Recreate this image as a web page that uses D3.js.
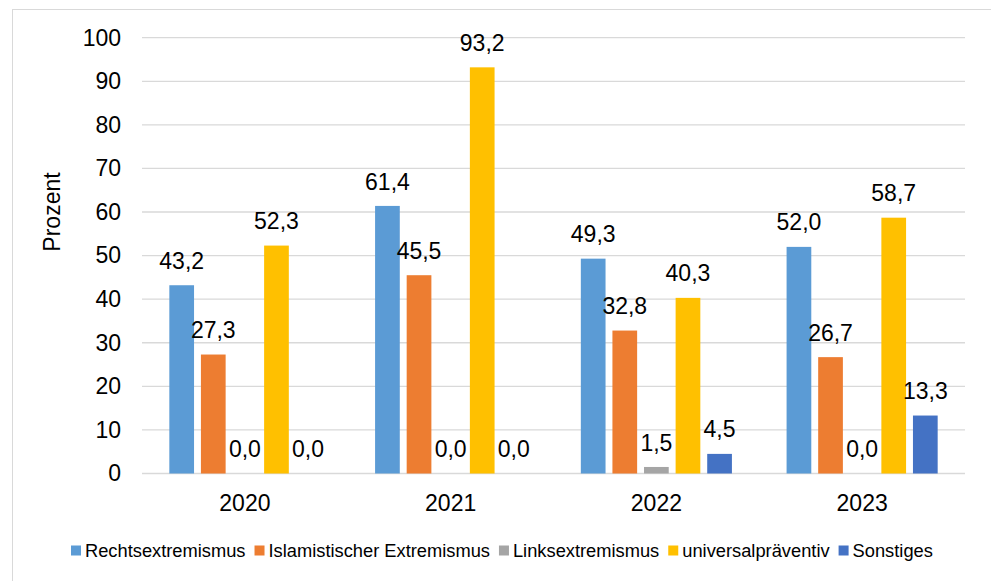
<!DOCTYPE html>
<html>
<head>
<meta charset="utf-8">
<script src="https://cdn.jsdelivr.net/npm/d3@7"></script>
<style>
  html, body { margin: 0; padding: 0; background: #fff; }
  svg { display: block; font-family: "Liberation Sans", Arial, sans-serif; }
</style>
</head>
<body>
<svg id="chart" width="991" height="581"></svg>
<script>
// Kategorien (Jahre) und Anteile je Themenfeld in Prozent
const years = ["2020", "2021", "2022", "2023"];
const seriesNames = ["Rechtsextremismus", "Islamistischer Extremismus", "Linksextremismus", "universalpräventiv", "Sonstiges"];
const rechtsextremismus = [43.2, 61.4, 49.3, 52.0];
const islamistischerExtremismus = [27.3, 45.5, 32.8, 26.7];
const linksextremismus = [0.0, 0.0, 1.5, 0.0];
const universalpraeventiv = [52.3, 93.2, 40.3, 58.7];
const sonstiges = [0.0, 0.0, 4.5, 13.3];
const yTicks = [0, 10, 20, 30, 40, 50, 60, 70, 80, 90, 100];
const colors = ["#5B9BD5", "#ED7D31", "#A5A5A5", "#FFC000", "#4472C4"];

const seriesValues = [rechtsextremismus, islamistischerExtremismus, linksextremismus, universalpraeventiv, sonstiges];

const svg = d3.select("#chart");
const FONT = 23;

// Rahmen des Diagrammbereichs
svg.append("rect")
  .attr("x", 12.5).attr("y", 9.5)
  .attr("width", 1000).attr("height", 600)
  .attr("fill", "none").attr("stroke", "#D9D9D9").attr("stroke-width", 1);

const plot = { left: 142, right: 965, top: 37.7, bottom: 473.5 };

const x0 = d3.scaleBand().domain(years).range([plot.left, plot.right]).paddingInner(0).paddingOuter(0);
const x1 = d3.scaleBand().domain(d3.range(seriesNames.length))
  .range([0, x0.bandwidth()]).paddingInner(0.218).paddingOuter(0.865);
const y = d3.scaleLinear().domain([0, 100]).range([plot.bottom, plot.top]);

// Gitterlinien
svg.append("g")
  .selectAll("line").data(yTicks).join("line")
  .attr("x1", plot.left).attr("x2", plot.right)
  .attr("y1", d => y(d)).attr("y2", d => y(d))
  .attr("stroke", "#D9D9D9").attr("stroke-width", 1.3);

// Y-Achse (nur Beschriftungen)
const yAxis = d3.axisLeft(y).tickValues(yTicks).tickSize(0).tickPadding(0).tickFormat(d3.format("d"));
const yG = svg.append("g").attr("transform", `translate(121,0)`).call(yAxis);
yG.select(".domain").remove();
yG.selectAll("text").attr("font-size", FONT).attr("fill", "#000")
  .attr("font-family", "Liberation Sans, Arial, sans-serif");

// X-Achse (nur Beschriftungen)
const xAxis = d3.axisBottom(x0).tickSize(0).tickPadding(0);
const xG = svg.append("g").attr("transform", `translate(0,${plot.bottom})`).call(xAxis);
xG.select(".domain").remove();
xG.selectAll("text").attr("font-size", FONT).attr("fill", "#000")
  .attr("dy", null).attr("y", 37.5)
  .attr("font-family", "Liberation Sans, Arial, sans-serif");

// Achsentitel
svg.append("text")
  .attr("transform", "translate(60,212) rotate(-90)")
  .attr("text-anchor", "middle")
  .attr("font-size", FONT).attr("fill", "#000")
  .text("Prozent");

// Balken und Datenbeschriftungen
const fmt = v => d3.format(".1f")(v).replace(".", ",");
const groups = svg.append("g").selectAll("g").data(years).join("g")
  .attr("transform", d => `translate(${x0(d)},0)`);

groups.each(function(year, yi) {
  const g = d3.select(this);
  const rows = seriesValues.map((vals, si) => ({ si, v: vals[yi] }));
  g.selectAll("rect").data(rows).join("rect")
    .attr("x", d => x1(d.si))
    .attr("width", x1.bandwidth())
    .attr("y", d => y(d.v))
    .attr("height", d => y(0) - y(d.v))
    .attr("fill", d => colors[d.si]);
  g.selectAll("text").data(rows).join("text")
    .attr("x", d => x1(d.si) + x1.bandwidth() / 2)
    .attr("y", d => y(d.v) - 16.4)
    .attr("text-anchor", "middle")
    .attr("font-size", FONT).attr("fill", "#000")
    .text(d => fmt(d.v));
});

// Legende
const legend = svg.append("g").attr("transform", "translate(71,0)");
let lx = 0;
seriesNames.forEach((name, i) => {
  const item = legend.append("g").attr("transform", `translate(${lx},0)`);
  item.append("rect").attr("x", 0).attr("y", 545.5).attr("width", 10).attr("height", 10).attr("fill", colors[i]);
  const t = item.append("text").attr("x", 14).attr("y", 556.5)
    .attr("font-size", 18.3).attr("fill", "#000").text(name);
  lx += 14 + t.node().getComputedTextLength() + 9;
});
</script>
</body>
</html>
